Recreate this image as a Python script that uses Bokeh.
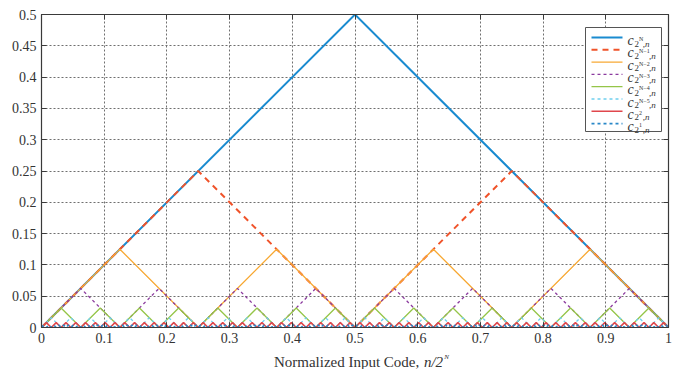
import numpy as np
from bokeh.plotting import figure
from bokeh.layouts import column
from bokeh.models import Range1d, FixedTicker, LinearAxis
from bokeh.core.properties import value
from bokeh.embed import file_html
from bokeh.resources import INLINE

# ---- data -------------------------------------------------------------
# period (in normalized code) and peak height of each triangle component
periods = [1.0, 1 / 2, 1 / 4, 1 / 8, 1 / 16, 1 / 32, 1 / 64, 1 / 128]
peaks = [0.5, 0.25, 0.125, 0.0625, 0.03125, 0.015625, 0.0078125, 0.00390625]
legend_sup = ["N", "N\u22121", "N\u22122", "N\u22123", "N\u22124", "N\u22125", "2", "1"]

x_tick_values = [0.0, 0.1, 0.2, 0.3, 0.4, 0.5, 0.6, 0.7, 0.8, 0.9, 1.0]
x_tick_labels = ["0", "0.1", "0.2", "0.3", "0.4", "0.5", "0.6", "0.7", "0.8", "0.9", "1"]
y_tick_values = [0.0, 0.05, 0.1, 0.15, 0.2, 0.25, 0.3, 0.35, 0.4, 0.45, 0.5]
y_tick_labels = ["0", "0.05", "0.1", "0.15", "0.2", "0.25", "0.3", "0.35", "0.4", "0.45", "0.5"]

# ---- styles -----------------------------------------------------------
colors = ["#1a8bd0", "#f0532a", "#f7a935", "#8b3a9e", "#95c548", "#6fd0ee", "#e0474c", "#2a88c8"]
widths = [2.0, 2.0, 1.3, 1.3, 1.3, 1.3, 1.6, 1.6]
dashes = ["solid", "6 5", "solid", "3 3", "solid", "3 3", "solid", "3 3"]

SERIF = "Liberation Serif"
INK = "#333333"
W = 682
FL, FR, FT, FB = 41, 668, 14, 327  # frame edges in pixels
FW, FH = FR - FL, FB - FT
H_MAIN = 350          # main chart height; the axis title strip sits below it
H_TITLE = 369 - H_MAIN


def dx(px):
    return (px - FL) / FW


def dy(py):
    return (FB - py) / FH * 0.5


p = figure(width=W, height=H_MAIN, output_backend="svg", toolbar_location=None,
           x_range=Range1d(0, 1), y_range=Range1d(0, 0.5),
           min_border_left=FL, min_border_right=W - FR,
           min_border_top=FT, min_border_bottom=H_MAIN - FB)
p.background_fill_color = "white"
p.border_fill_color = "white"
p.outline_line_color = "#3a3a3a"
p.outline_line_width = 1.2

for ax in (p.xaxis[0], p.yaxis[0]):
    ax.major_label_text_font = SERIF
    ax.major_label_text_font_size = "14px"
    ax.major_label_text_color = INK
    ax.major_tick_in = 5
    ax.major_tick_out = 0
    ax.minor_tick_line_color = None
    ax.axis_line_color = "#3a3a3a"
    ax.major_tick_line_color = "#3a3a3a"
p.xaxis.ticker = FixedTicker(ticks=x_tick_values)
p.yaxis.ticker = FixedTicker(ticks=y_tick_values)
p.xaxis.major_label_overrides = dict(zip(x_tick_values, x_tick_labels))
p.yaxis.major_label_overrides = dict(zip(y_tick_values, y_tick_labels))
p.xaxis.major_label_standoff = 5
p.yaxis.major_label_standoff = 5

# mirrored tick marks on top and right edges (no labels)
for loc, tv in (("right", y_tick_values), ("above", x_tick_values)):
    ax = LinearAxis(ticker=FixedTicker(ticks=tv), major_tick_in=5, major_tick_out=0,
                    minor_tick_line_color=None, major_label_text_font_size="1px",
                    major_label_overrides={t: "" for t in tv},
                    axis_line_color="#3a3a3a", major_tick_line_color="#3a3a3a",
                    major_label_standoff=0)
    p.add_layout(ax, loc)

p.xgrid.ticker = FixedTicker(ticks=x_tick_values)
p.ygrid.ticker = FixedTicker(ticks=y_tick_values)
for g in (p.xgrid[0], p.ygrid[0]):
    g.grid_line_color = "#6f6f6f"
    g.grid_line_dash = "2 2"
    g.grid_line_width = 1

# ---- triangle components ---------------------------------------------
for per, pk, c, w, d in zip(periods, peaks, colors, widths, dashes):
    n_half = int(round(1.0 / (per / 2)))
    xs = np.arange(n_half + 1) * (per / 2)
    ys = np.where(np.arange(n_half + 1) % 2 == 1, pk, 0.0)
    p.line(xs, ys, line_color=c, line_width=w, line_dash=d)

# ---- legend -----------------------------------------------------------
p.quad(left=[dx(585)], right=[dx(661)], top=[dy(27)], bottom=[dy(131)],
       fill_color="white", line_color="#555555", line_width=1)
row_y = [37.0 + 12.3 * i for i in range(8)]
for i, (c, w, d, sup) in enumerate(zip(colors, widths, dashes, legend_sup)):
    yy = row_y[i]
    p.line([dx(591), dx(622)], [dy(yy), dy(yy)], line_color=c, line_width=w, line_dash=d)
    p.text(x=[dx(627)], y=[dy(yy + 3)], text=["c"], text_font=value(SERIF),
           text_font_style="italic", text_font_size="14px", text_color=INK,
           text_baseline="alphabetic")
    p.text(x=[dx(634)], y=[dy(yy + 6)], text=["2"], text_font=value(SERIF),
           text_font_size="9px", text_color=INK, text_baseline="alphabetic")
    p.text(x=[dx(638.5)], y=[dy(yy + 1.5)], text=[sup], text_font=value(SERIF),
           text_font_size="6px", text_color=INK, text_baseline="alphabetic")
    x_n = 639.0 + 3.2 * len(sup)
    p.text(x=[dx(x_n)], y=[dy(yy + 6)], text=[",n"], text_font=value(SERIF),
           text_font_style="italic", text_font_size="9px", text_color=INK,
           text_baseline="alphabetic")

# ---- x axis title strip (pixel coordinates, y up from the strip bottom) ----
t = figure(width=W, height=H_TITLE, output_backend="svg", toolbar_location=None,
           x_range=Range1d(0, W), y_range=Range1d(0, H_TITLE),
           x_axis_type=None, y_axis_type=None,
           min_border_left=0, min_border_right=0, min_border_top=0, min_border_bottom=0)
t.outline_line_color = None
t.xgrid.visible = False
t.ygrid.visible = False
t.background_fill_color = "white"
t.border_fill_color = "white"
base = 8
t.text(x=[415], y=[base], text=["Normalized Input Code, "], text_font=value(SERIF),
       text_font_size="15px", text_color=INK, text_align="right", text_baseline="alphabetic")
t.text(x=[416], y=[base], text=["n/2"], text_font=value(SERIF), text_font_style="italic",
       text_font_size="15px", text_color=INK, text_align="left", text_baseline="alphabetic")
t.text(x=[438], y=[base + 5], text=["N"], text_font=value(SERIF), text_font_style="italic",
       text_font_size="7px", text_color=INK, text_align="left", text_baseline="alphabetic")

layout = column(p, t, spacing=0)
open("out.html", "w").write(file_html(layout, INLINE))
